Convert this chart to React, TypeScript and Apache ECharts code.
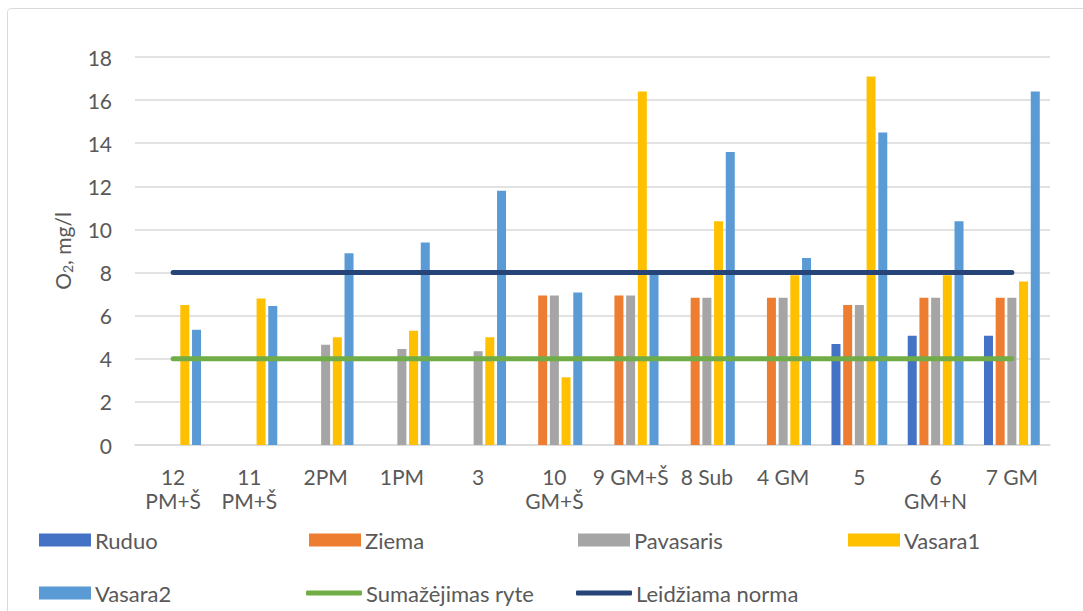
import React, { useEffect, useRef } from "react";
import * as echarts from "echarts";

const categories = ["12\nPM+Š", "11\nPM+Š", "2PM", "1PM", "3", "10\nGM+Š", "9 GM+Š", "8 Sub", "4 GM", "5", "6\nGM+N", "7 GM"];
const ruduo = [null, null, null, null, null, null, null, null, null, 4.68, 5.07, 5.07];
const ziema = [null, null, null, null, null, 6.93, 6.93, 6.83, 6.83, 6.5, 6.83, 6.83];
const pavasaris = [null, null, 4.65, 4.45, 4.35, 6.93, 6.93, 6.83, 6.83, 6.5, 6.83, 6.83];
const vasara1 = [6.5, 6.8, 5.0, 5.3, 5.0, 3.14, 16.4, 10.38, 7.88, 17.1, 7.88, 7.58];
const vasara2 = [5.35, 6.45, 8.9, 9.4, 11.8, 7.07, 8.0, 13.59, 8.68, 14.5, 10.38, 16.4];
const sumazejimas = [4, 4, 4, 4, 4, 4, 4, 4, 4, 4, 4, 4];
const norma = [8, 8, 8, 8, 8, 8, 8, 8, 8, 8, 8, 8];
const yTicks = { min: 0, max: 18, interval: 2 };

const FONT = "Lato";
const TXT = "#595959";
const FS = 21;
const LFS = 22;

export default function App() {
  const ref = useRef<HTMLDivElement>(null);
  useEffect(() => {
    if (!ref.current) return;
    const chart = echarts.init(ref.current, null, { renderer: "svg" });
    const bar = (name: string, data: (number | null)[], color: string) => ({
      name,
      type: "bar",
      data,
      barWidth: 9,
      barGap: "30%",
      itemStyle: { color },
    });
    const line = (name: string, data: number[], color: string) => ({
      name,
      type: "line",
      data,
      showSymbol: false,
      symbol: "none",
      z: 5,
      itemStyle: { color },
      lineStyle: { color, width: 5, cap: "round" },
    });
    const legendItem = (name: string, left: number, top: number, isLine = false) => ({
      data: [name],
      left,
      top,
      padding: 0,
      icon: isLine ? "roundRect" : "rect",
      itemWidth: isLine ? 56 : 52,
      itemHeight: isLine ? 5 : 13,
      selectedMode: false,
      textStyle: { color: TXT, fontFamily: FONT, fontSize: LFS, padding: [0, 0, 0, -1] },
    });
    chart.setOption({
      animation: false,
      backgroundColor: "#ffffff",
      textStyle: { fontFamily: FONT },
      graphic: [
        {
          type: "rect",
          shape: { x: 7.5, y: 8.5, width: 1200, height: 800, r: 4 },
          style: { fill: "none", stroke: "#d9d9d9", lineWidth: 1 },
          silent: true,
        },
      ],
      grid: { left: 135, right: 33, top: 57, bottom: 166, containLabel: false },
      legend: [
        legendItem("Ruduo", 39, 529),
        legendItem("Ziema", 309, 529),
        legendItem("Pavasaris", 578, 529),
        legendItem("Vasara1", 848, 529),
        legendItem("Vasara2", 39, 582),
        legendItem("Sumažėjimas ryte", 306, 582, true),
        legendItem("Leidžiama norma", 576, 582, true),
      ],
      xAxis: {
        type: "category",
        data: categories,
        axisLine: { lineStyle: { color: "#d9d9d9", width: 1.5 } },
        axisTick: { show: false },
        axisLabel: {
          interval: 0,
          color: TXT,
          fontFamily: FONT,
          fontSize: FS,
          lineHeight: 24,
          margin: 19,
        },
      },
      yAxis: {
        type: "value",
        min: yTicks.min,
        max: yTicks.max,
        interval: yTicks.interval,
        name: "{a|O}{b|2}{a|, mg/l}",
        nameLocation: "middle",
        nameGap: 61,
        nameRotate: 90,
        nameTextStyle: {
          color: TXT,
          fontFamily: FONT,
          fontSize: FS,
          rich: {
            a: { color: TXT, fontFamily: FONT, fontSize: FS },
            b: { color: TXT, fontFamily: FONT, fontSize: 14, padding: [10, 0, 0, 0] },
          },
        },
        axisLine: { show: false },
        axisTick: { show: false },
        axisLabel: { color: TXT, fontFamily: FONT, fontSize: FS, margin: 23 },
        splitLine: { lineStyle: { color: "#d9d9d9", width: 1.5 } },
      },
      series: [
        bar("Ruduo", ruduo, "#4472C4"),
        bar("Ziema", ziema, "#ED7D31"),
        bar("Pavasaris", pavasaris, "#A5A5A5"),
        bar("Vasara1", vasara1, "#FFC000"),
        bar("Vasara2", vasara2, "#5B9BD5"),
        line("Sumažėjimas ryte", sumazejimas, "#70AD47"),
        line("Leidžiama norma", norma, "#264478"),
      ],
    });
    return () => chart.dispose();
  }, []);
  return (
    <div
      ref={ref}
      style={{ position: "fixed", left: 0, top: 0, width: 1083, height: 611, background: "#fff" }}
    />
  );
}
